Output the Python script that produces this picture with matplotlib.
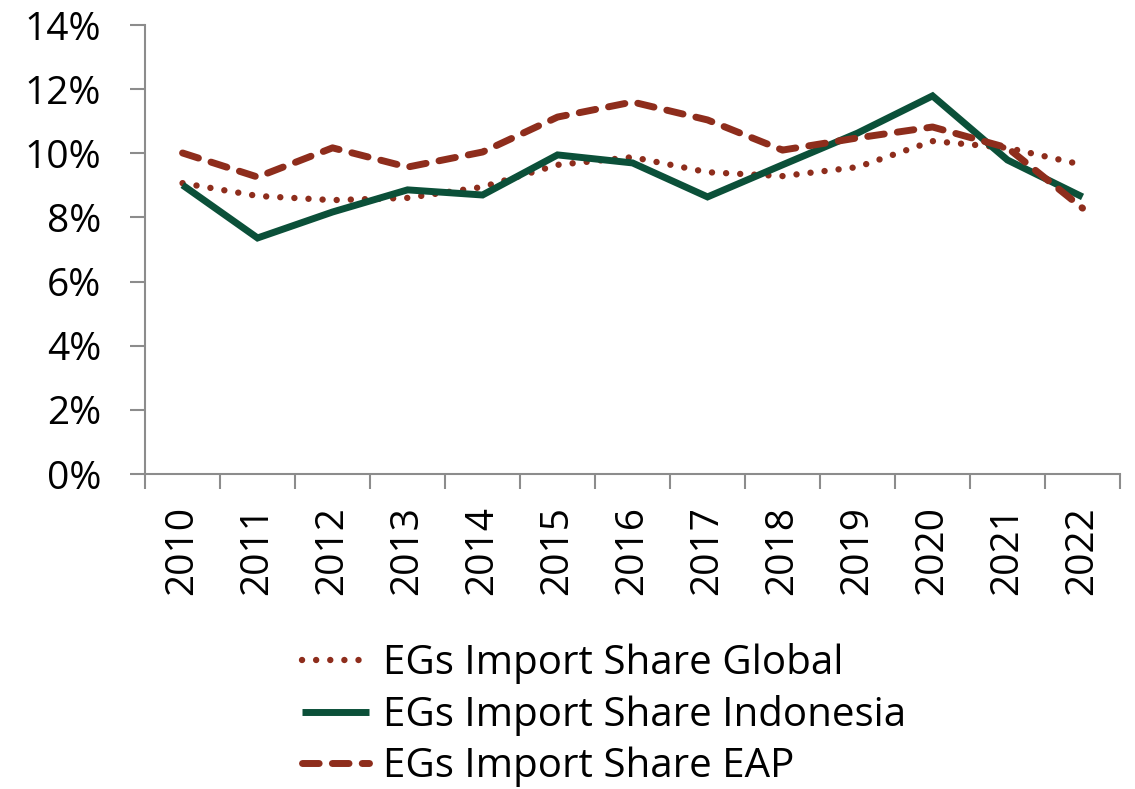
import numpy as np
import matplotlib
matplotlib.use("Agg")
import matplotlib.pyplot as plt
from matplotlib.ticker import FuncFormatter, FixedLocator

# -----------------------------
# Data
# -----------------------------
years = [2010, 2011, 2012, 2013, 2014, 2015, 2016, 2017, 2018, 2019, 2020, 2021, 2022]
share_global = [9.07, 8.67, 8.54, 8.61, 8.95, 9.64, 9.88, 9.41, 9.29, 9.57, 10.38, 10.17, 9.64]
share_indonesia = [9.01, 7.36, 8.17, 8.86, 8.70, 9.95, 9.70, 8.64, 9.64, 10.63, 11.79, 9.79, 8.64]
share_eap = [10.01, 9.26, 10.17, 9.57, 10.04, 11.13, 11.60, 11.04, 10.10, 10.48, 10.82, 10.17, 8.29]
labels = ["EGs Import Share Global", "EGs Import Share Indonesia", "EGs Import Share EAP"]

red = "#8e2d1c"
green = "#0b5039"
axis_grey = "#8c8c8c"

plt.rcParams["font.family"] = ["Open Sans", "DejaVu Sans"]

fig = plt.figure(figsize=(11.35, 7.89), dpi=100)
ax = fig.add_axes([0.1278, 0.3992, 0.8590, 0.5691])

x = np.arange(len(years))

ax.plot(x, np.array(share_global) / 100, color=red, lw=4.6,
        dashes=(0.01, 2.2), dash_capstyle="round", label=labels[0])
ax.plot(x, np.array(share_indonesia) / 100, color=green, lw=5,
        solid_capstyle="butt", solid_joinstyle="miter", label=labels[1])
ax.plot(x, np.array(share_eap) / 100, color=red, lw=5,
        dashes=(2.4, 1.9), dash_capstyle="round", label=labels[2])

# -----------------------------
# Axes styling
# -----------------------------
ax.set_xlim(-0.5, len(years) - 0.5)
ax.set_ylim(0, 0.14)

ax.set_yticks(np.arange(0, 0.141, 0.02))
ax.yaxis.set_major_formatter(FuncFormatter(lambda v, p: f"{v*100:.0f}%"))

ax.set_xticks(x)
ax.set_xticklabels([str(y) for y in years], rotation=90)
ax.xaxis.set_minor_locator(FixedLocator(np.arange(-0.5, len(years), 1)))

ax.tick_params(axis="y", direction="out", length=10.5, width=1.5,
               color=axis_grey, labelsize=28, pad=21)
ax.tick_params(axis="x", which="major", length=0, labelsize=28, pad=23)
ax.tick_params(axis="x", which="minor", direction="out", length=10.5,
               width=1.5, color=axis_grey)

for side in ["top", "right"]:
    ax.spines[side].set_visible(False)
for side in ["left", "bottom"]:
    ax.spines[side].set_color(axis_grey)
    ax.spines[side].set_linewidth(1.5)

leg = fig.legend(loc="center", bbox_to_anchor=(0.532, 0.0935), frameon=False,
                 fontsize=29, handlelength=1.66, handletextpad=0.35,
                 labelspacing=0.27, borderaxespad=0)

fig.savefig("out.png", dpi=100, facecolor="white")
